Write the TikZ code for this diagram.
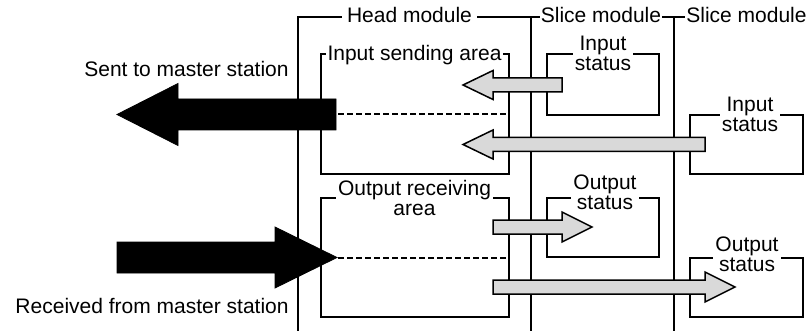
\documentclass[tikz,border=0pt]{standalone}
\usepackage{fontspec}
\setmainfont{Liberation Sans}
\usepackage{tikz}

\begin{document}
\begin{tikzpicture}[x=0.5pt,y=-0.5pt,
  font=\fontsize{10.5pt}{10pt}\selectfont,
  frame/.style={line width=0.75pt},
  graybar/.style={fill=black!15,draw=black,line width=0.75pt},
  blackbar/.style={fill=black,draw=black},
  tag/.style={fill=white,inner xsep=1pt,inner ysep=0.5pt,align=center}]
\useasboundingbox (0,0) rectangle (807,331);
% module frames
\draw[frame] (298,331) -- (298,17) -- (686,17);
\draw[frame] (531,17) -- (531,331);
\draw[frame] (674,17) -- (674,331);
% areas
\draw[frame] (321,54) rectangle (509,174);
\draw[frame] (321,198) rectangle (509,317);
\draw[frame] (547,54) rectangle (659,115);
\draw[frame] (690,115) rectangle (803,174);
\draw[frame] (547,198) rectangle (659,257);
\draw[frame] (690,258) rectangle (803,317);
% big arrows to and from the master station
\draw[blackbar] (336,99) -- (178,99) -- (178,83.5) -- (117,114.5) -- (178,145.5) -- (178,130) -- (336,130) -- cycle;
\draw[blackbar] (117,242) -- (275,242) -- (275,227) -- (337,257.5) -- (275,288) -- (275,273) -- (117,273) -- cycle;
\coordinate (sendend) at (338,114.5);
\coordinate (recvend) at (338,257.5);
\coordinate (sendbox) at (509,114.5);
\coordinate (recvbox) at (509,257.5);
\draw[line width=1pt,dash pattern=on 3pt off 1.5pt] (sendend) -- (sendbox);
\draw[line width=1pt,dash pattern=on 3pt off 1.5pt] (recvend) -- (recvbox);
% gray data arrows
\draw[graybar] (562,78) -- (493,78) -- (493,70.5) -- (463,85) -- (493,99.5) -- (493,92) -- (562,92) -- cycle;
\draw[graybar] (705,137.5) -- (493,137.5) -- (493,130) -- (463,144.5) -- (493,159) -- (493,151.5) -- (705,151.5) -- cycle;
\draw[graybar] (493,220) -- (562,220) -- (562,212) -- (592,227) -- (562,242) -- (562,234) -- (493,234) -- cycle;
\draw[graybar] (493,280) -- (705,280) -- (705,272) -- (735,287) -- (705,302) -- (705,294) -- (493,294) -- cycle;
% labels
\node[tag,inner xsep=2.5pt,anchor=base] (headlbl) at (409.5,22.5) {Head module};
\node[tag,inner xsep=0.5pt,anchor=base] (slicelbla) at (601,22.5) {Slice module};
\node[tag,inner xsep=0.5pt,anchor=base] (slicelblb) at (746.5,22.5) {Slice module};
\node[tag,anchor=base] (insendlbl) at (414.5,61) {Input sending area};
\node[tag] (outrecvlbl) at (414.5,197.5) {Output receiving\\area};
\node[tag] (instatalbl) at (603,53) {Input\\status};
\node[tag] (instatblbl) at (750,114.5) {Input\\status};
\node[tag] (outstatalbl) at (605,192.5) {Output\\status};
\node[tag] (outstatblbl) at (747,254) {Output\\status};
\node[anchor=base east,inner sep=0pt] (sendlbl) at (289,77) {Sent to master station};
\node[anchor=base east,inner sep=0pt] (recvlbl) at (289,313) {Received from master station};
\end{tikzpicture}
\end{document}
